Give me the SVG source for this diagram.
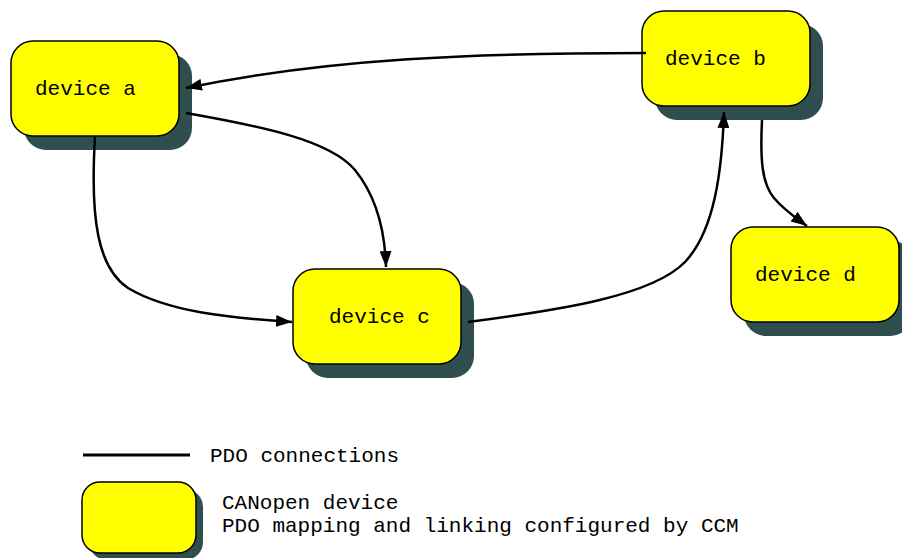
<svg xmlns="http://www.w3.org/2000/svg" width="902" height="558" viewBox="0 0 902 558">
  <style>
    .box { fill: #ffff00; stroke: #000000; stroke-width: 1.5; }
    .shadow { fill: #2f4f4f; }
    .label { font-family: "Liberation Mono", "Courier New", monospace; font-size: 21px; fill: #000000; }
    .link { fill: none; stroke: #000000; stroke-width: 2.5; }
  </style>
  <defs>
    <marker id="arrow" viewBox="0 0 16 12" refX="16" refY="6" markerWidth="16" markerHeight="12" markerUnits="userSpaceOnUse" orient="auto">
      <path d="M0,0 L16,6 L0,12 Z" fill="#000000"/>
    </marker>
  </defs>
  <rect width="902" height="558" fill="#ffffff"/>

  <g id="device-a">
    <rect class="shadow" x="24" y="54" width="168" height="96" rx="22"/>
    <rect class="box" x="11" y="41" width="168" height="95" rx="22"/>
    <text class="label" x="35" y="95">device a</text>
  </g>

  <g id="device-b">
    <rect class="shadow" x="655" y="24" width="168" height="96" rx="22"/>
    <rect class="box" x="642" y="11" width="168" height="95" rx="22"/>
    <text class="label" x="665" y="65">device b</text>
  </g>

  <g id="device-c">
    <rect class="shadow" x="306" y="282" width="168" height="96" rx="22"/>
    <rect class="box" x="293" y="269" width="168" height="95" rx="22"/>
    <text class="label" x="329" y="323">device c</text>
  </g>

  <g id="device-d">
    <rect class="shadow" x="744" y="240" width="168" height="96" rx="22"/>
    <rect class="box" x="731" y="227" width="168" height="95" rx="22"/>
    <text class="label" x="755" y="281">device d</text>
  </g>

  <g id="connectors">
    <path class="link" marker-end="url(#arrow)" d="M646,53 C480,53 330,58 186,88"/>
    <path class="link" marker-end="url(#arrow)" d="M186,113 C260,126 330,140 355,170 C376,196 385,232 386,267"/>
    <path class="link" marker-end="url(#arrow)" d="M95,137 C90,220 98,268 128,288 C168,312 230,318 292,322"/>
    <path class="link" marker-end="url(#arrow)" d="M468,322 C560,310 652,296 685,262 C715,230 722,170 724,112"/>
    <path class="link" marker-end="url(#arrow)" d="M762,120 C760,160 762,184 774,198 C784,210 796,218 807,226"/>
  </g>

  <g id="legend">
    <line x1="83" y1="455" x2="190" y2="455" stroke="#000000" stroke-width="3"/>
    <text class="label" x="210" y="462">PDO connections</text>
    <rect class="shadow" x="89" y="489" width="114" height="71" rx="18"/>
    <rect class="box" x="82" y="482" width="114" height="71" rx="18"/>
    <text class="label" x="222" y="509">CANopen device</text>
    <text class="label" x="222" y="532">PDO mapping and linking configured by CCM</text>
  </g>
</svg>
